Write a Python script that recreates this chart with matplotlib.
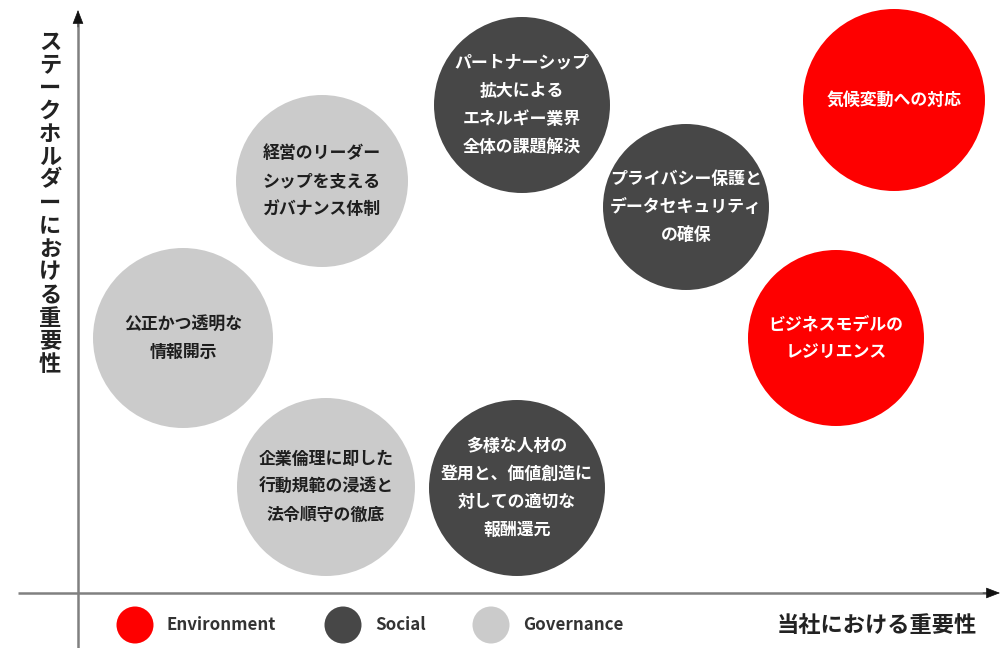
import matplotlib
matplotlib.use("Agg")
import matplotlib.pyplot as plt
from matplotlib.patches import Circle

plt.rcParams['font.family'] = ['Noto Sans CJK JP', 'DejaVu Sans']

# ---- data ----
labels = [
    "気候変動への対応",
    "ビジネスモデルの\nレジリエンス",
    "パートナーシップ\n拡大による\nエネルギー業界\n全体の課題解決",
    "プライバシー保護と\nデータセキュリティ\nの確保",
    "多様な人材の\n登用と、価値創造に\n対しての適切な\n報酬還元",
    "経営のリーダー\nシップを支える\nガバナンス体制",
    "公正かつ透明な\n情報開示",
    "企業倫理に即した\n行動規範の浸透と\n法令順守の徹底",
]
categories = ["Environment", "Environment", "Social", "Social", "Social",
              "Governance", "Governance", "Governance"]
company_importance = [816, 758, 444, 608, 439, 244, 105, 248]      # x
stakeholder_importance = [493, 255, 488, 386, 105, 412, 255, 106]  # y
bubble_radius = [91, 88, 88, 83, 88, 86, 90, 89]

legend_names = ["Environment", "Social", "Governance"]
colors = {"Environment": "#fe0000", "Social": "#474747", "Governance": "#cbcbcb"}
text_colors = {"Environment": "white", "Social": "white", "Governance": "#1e1e1e"}

x_label = "当社における重要性"
y_label = "ステークホルダーにおける重要性"

# ---- figure ----
fig = plt.figure(figsize=(10.04, 6.48), dpi=100)
ax = fig.add_axes([0, 0, 1, 1])
ax.set_xlim(-78, 926)
ax.set_ylim(-55, 593)
ax.set_aspect('equal')
ax.axis('off')

# axes with arrows
axis_col = "#808080"
ax.plot([-60, 915], [0, 0], color=axis_col, lw=1.8, solid_capstyle='butt', zorder=1)
ax.plot([0, 0], [-60, 570], color=axis_col, lw=1.8, solid_capstyle='butt', zorder=1)
ax.annotate('', xy=(922, 0), xytext=(905, 0),
            arrowprops=dict(arrowstyle='-|>,head_length=0.9,head_width=0.35',
                            color='#111111', lw=0.5, shrinkA=0, shrinkB=0))
ax.annotate('', xy=(0, 583), xytext=(0, 566),
            arrowprops=dict(arrowstyle='-|>,head_length=0.9,head_width=0.35',
                            color='#111111', lw=0.5, shrinkA=0, shrinkB=0))

# bubbles
for lab, cat, x, y, r in zip(labels, categories, company_importance,
                             stakeholder_importance, bubble_radius):
    ax.add_patch(Circle((x, y), r, facecolor=colors[cat], edgecolor='none', zorder=2))
    ax.text(x, y, lab, ha='center', va='center', color=text_colors[cat],
            fontsize=12.2, fontweight='bold', linespacing=1.72, zorder=3)

# legend
leg_x = [57, 265, 413]
for name, lx in zip(legend_names, leg_x):
    ax.add_patch(Circle((lx, -32), 18.5, facecolor=colors[name], edgecolor='none', zorder=2))
    ax.text(lx + 32, -32, name, ha='left', va='center', fontsize=12.2,
            fontweight='bold', color='#333333')

# axis titles
ax.text(899, -32, x_label, ha='right', va='center', fontsize=16,
        fontweight='bold', color='#222222')
ax.text(-28, 390, "\n".join(y_label), ha='center', va='center', fontsize=16,
        fontweight='bold', color='#222222', linespacing=1.0)

fig.savefig("out.png", dpi=100)
